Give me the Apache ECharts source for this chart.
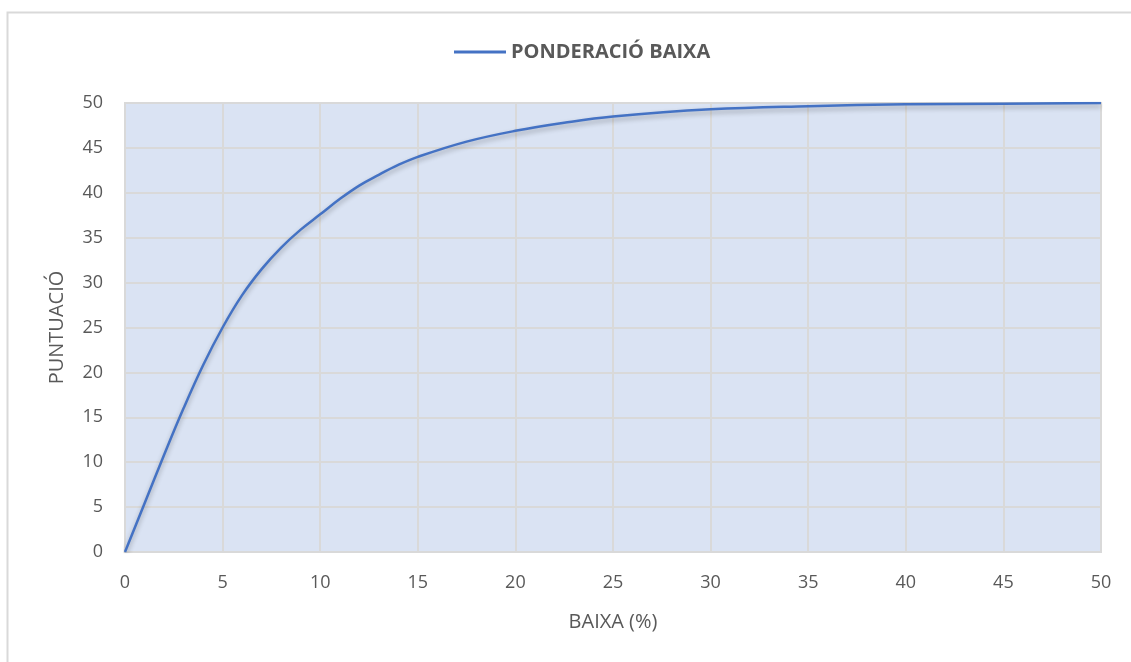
<!DOCTYPE html>
<html>
<head>
<meta charset="utf-8">
<script src="https://cdn.jsdelivr.net/npm/echarts@6/dist/echarts.min.js"></script>
<style>
  html, body { margin: 0; padding: 0; background: #fff; }
  #chart { width: 1131px; height: 662px; }
</style>
</head>
<body>
<div id="chart"></div>
<script>
// valors llegits del gràfic
const baixa = [0, 1, 2, 3, 4, 5, 6, 7, 8, 9, 10, 11, 12, 13, 14, 15, 17.5, 20, 22.5, 25, 30, 35, 40, 45, 50]
const puntuacio = [0, 5.4, 10.8, 16, 20.8, 25, 28.6, 31.5, 33.9, 35.9, 37.6, 39.3, 40.8, 42.0, 43.1, 44.0, 45.7, 46.9, 47.8, 48.5, 49.3, 49.65, 49.85, 49.93, 50]
const xTicks = [0, 50, 5]
const yTicks = [0, 50, 5]
const seriesName = 'PONDERACIÓ BAIXA'

const chart = echarts.init(document.getElementById('chart'))
const font = 'Open Sans, Lato, sans-serif'

chart.setOption({
  animation: false,
  graphic: [
    {
      type: 'rect',
      shape: { x: 7.5, y: 12.5, width: 1140, height: 700 },
      style: { fill: 'none', stroke: '#d9d9d9', lineWidth: 2 },
      z: -1
    }
  ],
  legend: {
    top: 37,
    left: 449,
    itemWidth: 52,
    itemHeight: 3,
    icon: 'rect',
    itemGap: 10,
    textStyle: { color: '#595959', fontSize: 20, fontWeight: 'bold', fontFamily: font },
    data: [seriesName]
  },
  grid: {
    left: 125,
    right: 30,
    top: 103,
    bottom: 110,
    show: true,
    backgroundColor: '#dae3f3',
    borderColor: '#d9d9d9',
    borderWidth: 2
  },
  xAxis: {
    type: 'value',
    min: xTicks[0],
    max: xTicks[1],
    interval: xTicks[2],
    name: 'BAIXA (%)',
    nameLocation: 'middle',
    nameGap: 60,
    nameTextStyle: { color: '#595959', fontSize: 20, fontFamily: font },
    axisLine: { show: true, lineStyle: { color: '#d9d9d9', width: 2 } },
    axisTick: { show: false },
    axisLabel: { color: '#595959', fontSize: 18, margin: 22, fontFamily: font },
    splitLine: { show: true, lineStyle: { color: '#d9d9d9', width: 2 } }
  },
  yAxis: {
    type: 'value',
    min: yTicks[0],
    max: yTicks[1],
    interval: yTicks[2],
    name: 'PUNTUACIÓ',
    nameLocation: 'middle',
    nameGap: 58,
    nameTextStyle: { color: '#595959', fontSize: 20, fontFamily: font },
    axisLine: { show: true, lineStyle: { color: '#d9d9d9', width: 2 } },
    axisTick: { show: false },
    axisLabel: { color: '#595959', fontSize: 18, margin: 22, fontFamily: font },
    splitLine: { show: true, lineStyle: { color: '#d9d9d9', width: 2 } }
  },
  series: [
    {
      name: seriesName,
      type: 'line',
      smooth: 0.4,
      showSymbol: false,
      symbol: 'none',
      color: '#4472c4',
      lineStyle: {
        width: 2.5,
        color: '#4472c4',
        shadowColor: 'rgba(0,0,0,0.3)',
        shadowBlur: 5,
        shadowOffsetY: 3
      },
      data: baixa.map((x, i) => [x, puntuacio[i]])
    }
  ]
})
</script>
</body>
</html>
